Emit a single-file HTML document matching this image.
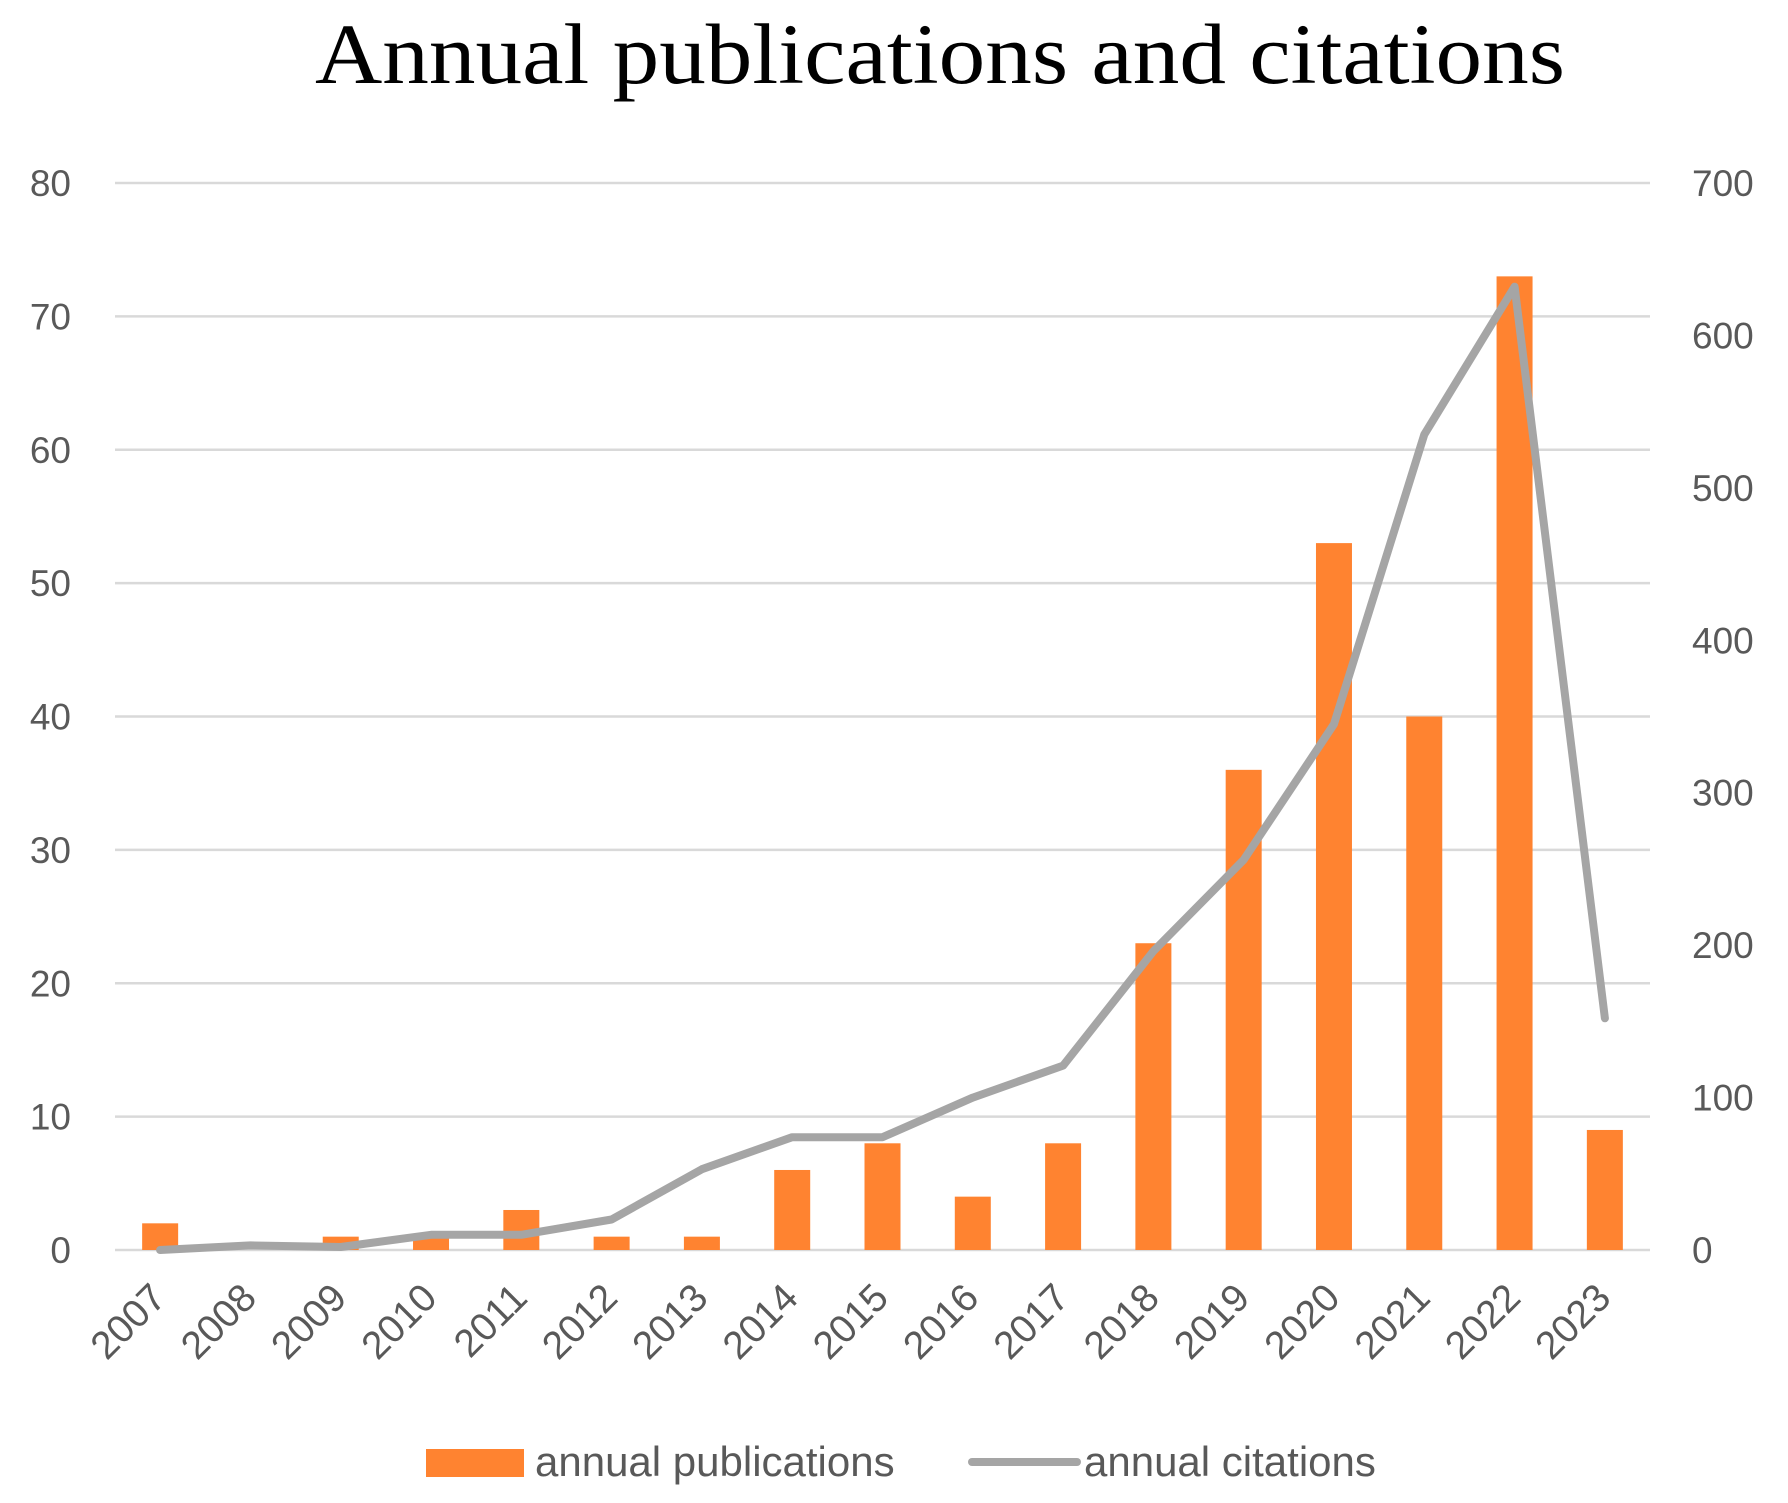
<!DOCTYPE html>
<html><head><meta charset="utf-8">
<style>
html,body{margin:0;padding:0;background:#fff;}
svg{display:block;}
</style></head>
<body>
<svg id="chart" width="1788" height="1503" viewBox="0 0 1788 1503" xmlns="http://www.w3.org/2000/svg">
<text x="940" y="83" text-anchor="middle" textLength="1250" lengthAdjust="spacingAndGlyphs" font-family="Liberation Serif, serif" font-size="86" fill="#000">Annual publications and citations</text>
<g id="grid"></g>
<g id="bars"></g>
<g id="line"></g>
<g id="ticks"></g>
<g>
<rect x="426" y="1449" width="98" height="28" fill="#FF8330"/>
<text x="535" y="1476" font-family="Liberation Sans, sans-serif" font-size="42" fill="#595959">annual publications</text>
<line x1="972" y1="1462" x2="1077" y2="1462" stroke="#A5A5A5" stroke-width="8" stroke-linecap="round"/>
<text x="1084" y="1476" font-family="Liberation Sans, sans-serif" font-size="42" fill="#595959">annual citations</text>
</g>
</svg>
<script>
const categories = ["2007","2008","2009","2010","2011","2012","2013","2014","2015","2016","2017","2018","2019","2020","2021","2022","2023"];
const publications = [2,0,1,1,3,1,1,6,8,4,8,23,36,53,40,73,9];
const citations = [0,3,2,10,10,20,53,74,74,100,121,196,256,345,535,632,152];
const leftTicks = [0,10,20,30,40,50,60,70,80];
const rightTicks = [0,100,200,300,400,500,600,700];

const NS = "http://www.w3.org/2000/svg";
const X0 = 115, X1 = 1650, Y0 = 1250, Y1 = 183;
const band = (X1 - X0) / categories.length;
const xc = i => X0 + band * (i + 0.5);
const yL = v => Y0 - (v / 80) * (Y0 - Y1);
const yR = v => Y0 - (v / 700) * (Y0 - Y1);
function mk(tag, attrs, parent) {
  const e = document.createElementNS(NS, tag);
  for (const k in attrs) e.setAttribute(k, attrs[k]);
  parent.appendChild(e);
  return e;
}
const grid = document.getElementById('grid');
const ticks = document.getElementById('ticks');
leftTicks.forEach(v => {
  const l = mk('line', {x1: X0, x2: X1, y1: yL(v), y2: yL(v), stroke: '#D9D9D9', 'stroke-width': 2.5}, grid);
  
  
  const t = mk('text', {x: 71, y: yL(v) + 13, 'text-anchor': 'end', 'font-family': 'Liberation Sans, sans-serif', 'font-size': 37, fill: '#595959'}, ticks);
  t.textContent = v;
  
  
});
rightTicks.forEach(v => {
  const t = mk('text', {x: 1692, y: yR(v) + 13, 'text-anchor': 'start', 'font-family': 'Liberation Sans, sans-serif', 'font-size': 37, fill: '#595959'}, ticks);
  t.textContent = v;
  
  
});
const bars = document.getElementById('bars');
const bw = 36;
publications.forEach((v, i) => {
  const r = mk('rect', {x: xc(i) - bw / 2, y: yL(v), width: bw, height: Y0 - yL(v), fill: '#FF8330'}, bars);
  
  
  const cx = xc(i) + 8, cy = 1300;
  const t = mk('text', {x: cx, y: cy, 'text-anchor': 'end', transform: `rotate(-45 ${cx} ${cy})`, 'font-family': 'Liberation Sans, sans-serif', 'font-size': 39, fill: '#595959'}, ticks);
  t.textContent = categories[i];
  
  
});
const pts = citations.map((v, i) => xc(i).toFixed(1) + ',' + yR(v).toFixed(1)).join(' ');
const pl = mk('polyline', {points: pts, fill: 'none', stroke: '#A5A5A5', 'stroke-width': 8, 'stroke-linejoin': 'round', 'stroke-linecap': 'round'}, document.getElementById('line'));


</script>
</body></html>
